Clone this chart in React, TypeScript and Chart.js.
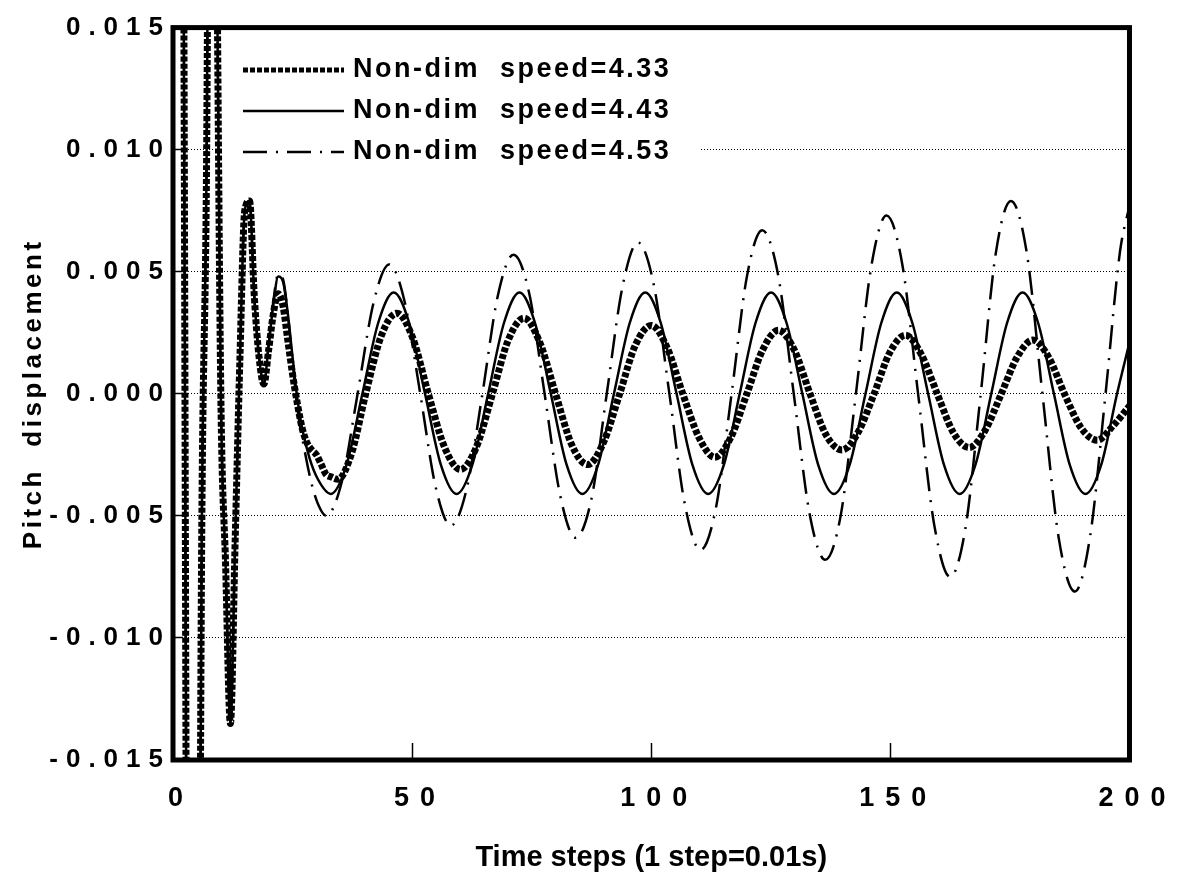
import React, { useEffect, useRef } from "react";
import { Chart, registerables } from "chart.js";

Chart.register(...registerables);

const FONT = "'Liberation Sans', Arial, Helvetica, sans-serif";

// Shared start-up transient (all three runs coincide here)
const transientSteps = [0, 1, 2, 3, 4, 5, 6, 7, 8, 9, 10, 11, 12, 13, 14, 15, 16, 17, 18, 19];
const transientValues = [0.02, 0.045, 0.03, -0.03, -0.05, -0.045, -0.006, 0.009, 0.04, 0.022, 0.0, -0.007, -0.0135, -0.006, 0.0015, 0.0075, 0.0079, 0.004, 0.0015, 0.0004];

// Non-dim speed = 4.33 (heavy dotted)
const steps433 = [
  ...transientSteps,
  20, 21, 22, 23, 24, 25, 26, 27, 28, 29, 30, 31, 32, 33,
  34.5, 37.4, 40.3, 43.6, 46.8, 50.1, 53.4, 56.8, 60.1, 63.4, 66.8, 70.1, 73.4,
  76.7, 80.0, 83.4, 86.7, 90.0, 93.4, 96.7, 100.0, 103.3, 106.6, 110.0, 113.3,
  116.6, 120.0, 123.3, 126.6, 129.9, 133.2, 136.6, 139.9, 143.2, 146.6, 149.9, 153.2,
  156.5, 159.8, 163.2, 166.5, 169.8, 173.2, 176.5, 179.8, 183.1, 186.4, 189.9, 193.3,
  196.6, 200,
];
const values433 = [
  ...transientValues,
  0.0018, 0.0033, 0.0041, 0.0036, 0.0022, 0.0008, -0.0004, -0.0014, -0.002, -0.0023, -0.0025, -0.0029, -0.0033, -0.0034,
  -0.0035, -0.0024, 0.0, 0.0024, 0.0033, 0.0023, 0.0, -0.0022, -0.0031, -0.0022, 0.0, 0.0022, 0.0031,
  0.0021, 0.0, -0.0021, -0.0029, -0.002, 0.0, 0.002, 0.0028, 0.0019, 0.0, -0.0018, -0.0026,
  -0.0018, 0.0, 0.0018, 0.0026, 0.0018, 0.0, -0.0017, -0.0023, -0.0016, 0.0, 0.0017, 0.0024,
  0.0016, 0.0, -0.0016, -0.0022, -0.0015, 0.0, 0.0015, 0.0022, 0.0015, 0.0, -0.0014, -0.0019,
  -0.0013, -0.0005,
];

// Non-dim speed = 4.43 (solid)
const steps443 = [
  ...transientSteps,
  20, 21, 22, 23, 24, 25, 26, 27, 28.5, 30.3, 33.0,
  36.3, 39.6, 42.9, 46.15, 49.4, 52.7, 56.0, 59.3, 62.6, 65.9, 69.2, 72.45,
  75.7, 79.0, 82.3, 85.6, 88.9, 92.2, 95.5, 98.75, 102.0, 105.3, 108.6, 111.9,
  115.2, 118.5, 121.8, 125.05, 128.3, 131.6, 134.9, 138.2, 141.5, 144.8, 148.1, 151.35,
  154.6, 157.9, 161.2, 164.5, 167.8, 171.1, 174.4, 177.65, 180.9, 184.2, 187.5, 190.8,
  194.1, 197.4, 200,
];
const values443 = [
  ...transientValues,
  0.002, 0.0037, 0.0048, 0.0046, 0.0033, 0.0015, -0.0002, -0.0014, -0.0026, -0.0035, -0.0041,
  -0.0029, 0.0, 0.0029, 0.00415, 0.0029, 0.0, -0.0029, -0.0041, -0.0029, 0.0, 0.0029, 0.00415,
  0.0029, 0.0, -0.0029, -0.0041, -0.0029, 0.0, 0.0029, 0.00415, 0.0029, 0.0, -0.0029, -0.0041,
  -0.0029, 0.0, 0.0029, 0.00415, 0.0029, 0.0, -0.0029, -0.0041, -0.0029, 0.0, 0.0029, 0.00415,
  0.0029, 0.0, -0.0029, -0.0041, -0.0029, 0.0, 0.0029, 0.00415, 0.0029, 0.0, -0.0029, -0.0041,
  -0.0029, 0.0, 0.0021,
];

// Non-dim speed = 4.53 (dash-dot)
const steps453 = [
  ...transientSteps,
  20, 21, 22, 23, 24, 25, 26, 27.5, 29, 30.5, 32.0,
  35.3, 38.6, 41.9, 45.2, 48.4, 51.7, 54.9, 58.1, 61.4, 64.7, 67.9, 71.2,
  74.5, 77.7, 81.0, 84.2, 87.5, 90.7, 94.0, 97.2, 100.5, 103.8, 107.0, 110.3,
  113.5, 116.8, 120.0, 123.2, 126.5, 129.8, 133.1, 136.4, 139.6, 142.8, 146.0, 149.2,
  152.5, 155.8, 159.2, 162.5, 165.7, 168.9, 172.0, 175.2, 178.5, 181.8, 185.2, 188.6,
  191.8, 195.0, 198.0, 200,
];
const values453 = [
  ...transientValues,
  0.002, 0.0038, 0.0049, 0.0047, 0.0033, 0.0013, -0.0006, -0.0023, -0.0037, -0.0046, -0.005,
  -0.0036, 0.0, 0.0037, 0.0053, 0.0038, 0.0, -0.0038, -0.0054, -0.0039, 0.0, 0.004, 0.0057,
  0.0041, 0.0, -0.0042, -0.0059, -0.0043, 0.0, 0.0044, 0.0062, 0.0045, 0.0, -0.0045, -0.0064,
  -0.0047, 0.0, 0.0048, 0.0067, 0.0049, 0.0, -0.0049, -0.0068, -0.005, 0.0, 0.0052, 0.0073,
  0.0053, 0.0, -0.0054, -0.0075, -0.0055, 0.0, 0.0057, 0.0079, 0.0058, 0.0, -0.0059, -0.0081,
  -0.0058, 0.0, 0.0058, 0.0077,
];

const seriesLabels = ["Non-dim  speed=4.33", "Non-dim  speed=4.43", "Non-dim  speed=4.53"];
const xTickValues = [0, 50, 100, 150, 200];
const yTickValues = [-0.015, -0.01, -0.005, 0, 0.005, 0.01, 0.015];
const xTitle = "Time steps (1 step=0.01s)";
const yTitle = "Pitch  displacement";

const toPoints = (xs: number[], ys: number[]) => xs.map((x, i) => ({ x, y: ys[i] }));

const spacingPlugin = {
  id: "letterSpacingWrap",
  afterUpdate(chart: any) {
    const wrap = (obj: any, method: string, spacing: string) => {
      if (!obj || obj["__wrap_" + method]) return;
      const orig = obj[method].bind(obj);
      obj[method] = (...args: any[]) => {
        const ctx = chart.ctx;
        ctx.save();
        ctx.letterSpacing = spacing;
        orig(...args);
        ctx.restore();
      };
      obj["__wrap_" + method] = true;
    };
    wrap(chart.scales.x, "drawLabels", "11px");
    wrap(chart.scales.y, "drawLabels", "8px");
    wrap(chart.scales.y, "drawTitle", "3.5px");
  },
};

const insetLegend = {
  id: "insetLegend",
  beforeDatasetsDraw(chart: any, _args: any, opts: any) {
    const ctx = chart.ctx;
    ctx.save();
    ctx.fillStyle = "#ffffff";
    ctx.fillRect(opts.boxLeft, opts.boxTop, opts.boxWidth, opts.boxHeight);
    chart.data.datasets.forEach((ds: any, i: number) => {
      const y = opts.firstRowY + i * opts.rowGap;
      ctx.setLineDash(ds.borderDash || []);
      ctx.lineWidth = Math.min(ds.borderWidth, 5);
      ctx.strokeStyle = ds.borderColor;
      ctx.lineCap = "butt";
      ctx.beginPath();
      ctx.moveTo(opts.lineStart, y);
      ctx.lineTo(opts.lineEnd, y);
      ctx.stroke();
      ctx.setLineDash([]);
      ctx.font = opts.font;
      ctx.letterSpacing = opts.letterSpacing;
      ctx.fillStyle = "#000";
      ctx.textAlign = "left";
      ctx.textBaseline = "middle";
      ctx.fillText(ds.label, opts.textX, y);
    });
    ctx.restore();
  },
};

const framePlugin = {
  id: "frame",
  afterDatasetsDraw(chart: any) {
    const { ctx, chartArea: a } = chart;
    ctx.save();
    ctx.lineWidth = 5;
    ctx.strokeStyle = "#000";
    ctx.strokeRect(a.left, a.top, a.right - a.left, a.bottom - a.top);
    ctx.restore();
  },
};

export default function App() {
  const ref = useRef<HTMLCanvasElement | null>(null);

  useEffect(() => {
    if (!ref.current) return;
    const common = {
      borderColor: "#000",
      pointRadius: 0,
      fill: false,
      cubicInterpolationMode: "monotone" as const,
      clip: 0,
    };
    const chart = new Chart(ref.current, {
      type: "line",
      data: {
        datasets: [
          { ...common, label: seriesLabels[0], data: toPoints(steps433, values433), borderWidth: 7, borderDash: [5, 2] },
          { ...common, label: seriesLabels[1], data: toPoints(steps443, values443), borderWidth: 2.5 },
          { ...common, label: seriesLabels[2], data: toPoints(steps453, values453), borderWidth: 2.5, borderDash: [24, 9, 2, 9] },
        ],
      },
      options: {
        responsive: false,
        maintainAspectRatio: false,
        devicePixelRatio: 1,
        animation: false,
        events: [],
        layout: { padding: { left: 0, top: 20, right: 54, bottom: 0 } },
        plugins: {
          legend: { display: false },
          tooltip: { enabled: false },
          insetLegend: {
            boxLeft: 222, boxTop: 26, boxWidth: 478, boxHeight: 150,
            firstRowY: 70, rowGap: 41,
            lineStart: 243, lineEnd: 344, textX: 353,
            font: `bold 27px ${FONT}`, letterSpacing: "2.5px",
          },
        } as any,
        scales: {
          x: {
            type: "linear",
            min: 0,
            max: 200,
            afterFit: (s: any) => { s.height = 123; },
            afterBuildTicks: (s: any) => { s.ticks = xTickValues.map((v) => ({ value: v })); },
            grid: { display: true, drawOnChartArea: false, drawTicks: true, tickLength: -17, tickColor: "#000", tickWidth: 1.5, tickBorderDash: [] },
            border: { display: false },
            ticks: {
              color: "#000",
              font: { family: FONT, size: 27, weight: "bold" },
              padding: 39,
              labelOffset: 8,
              maxRotation: 0,
              autoSkip: false,
              callback: (v: any) => String(v),
            },
            title: {
              display: true,
              text: xTitle,
              color: "#000",
              font: { family: FONT, size: 29, weight: "bold" },
              padding: { top: 0, bottom: 8 },
            },
          },
          y: {
            type: "linear",
            min: -0.015,
            max: 0.015,
            afterFit: (s: any) => { s.width = 173; },
            afterBuildTicks: (s: any) => { s.ticks = yTickValues.map((v) => ({ value: v })); },
            grid: { display: true, drawOnChartArea: true, drawTicks: true, tickLength: -10, color: "#000", lineWidth: 1, tickColor: "#000", tickWidth: 1.5, tickBorderDash: [] },
            border: { display: false, dash: [1, 2] },
            ticks: {
              color: "#000",
              font: { family: FONT, size: 26, weight: "bold" },
              padding: 12,
              autoSkip: false,
              callback: (v: any) => Number(v).toFixed(3),
            },
            title: {
              display: true,
              text: yTitle,
              color: "#000",
              font: { family: FONT, size: 26, weight: "bold" },
              padding: { top: 18, bottom: 0 },
            },
          },
        },
      } as any,
      plugins: [spacingPlugin, insetLegend, framePlugin],
    });
    return () => chart.destroy();
  }, []);

  return (
    <div style={{ position: "absolute", left: 0, top: 0, width: 1191, height: 883, background: "#fff" }}>
      <canvas ref={ref} width={1191} height={883} style={{ display: "block" }} />
    </div>
  );
}
